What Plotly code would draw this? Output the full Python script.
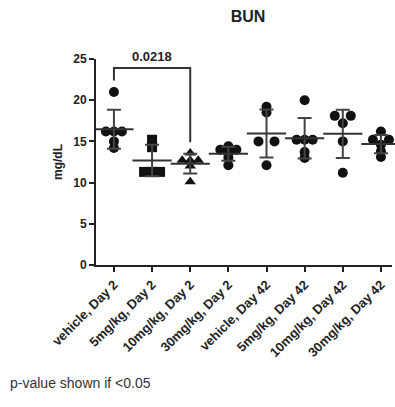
import numpy as np
import plotly.graph_objects as go

categories = ["vehicle, Day 2", "5mg/kg, Day 2", "10mg/kg, Day 2", "30mg/kg, Day 2",
              "vehicle, Day 42", "5mg/kg, Day 42", "10mg/kg, Day 42", "30mg/kg, Day 42"]
g1 = [21.0, 16.2, 16.2, 16.2, 15.0, 14.2]
g2 = [15.2, 14.3, 11.3, 11.3, 11.3]
g3 = [13.6, 12.7, 12.7, 12.7, 12.0, 10.1]
g4 = [14.4, 14.0, 14.0, 13.5, 13.0, 12.1]
g5 = [19.2, 18.5, 15.0, 15.0, 12.1]
g6 = [20.0, 15.2, 15.2, 15.2, 13.7, 13.0]
g7 = [18.1, 18.1, 17.2, 15.0, 11.2]
g8 = [16.2, 15.2, 15.2, 14.6, 13.8, 13.1]
groups = [g1, g2, g3, g4, g5, g6, g7, g8]
symbols = ["circle", "square", "triangle-up", "circle", "circle", "circle", "circle", "circle"]
pval_text = "0.0218"
pval_pair = (0, 2)

px_per_cat = 38.1
step_px = 8.0
FONT = "Liberation Sans, Arial"

fig = go.Figure()

def swarm(vals):
    # spread near-identical values symmetrically around the centre
    order = sorted(range(len(vals)), key=lambda k: -vals[k])
    offs = [0.0] * len(vals)
    clusters = []
    for k in order:
        if clusters and abs(vals[clusters[-1][-1]] - vals[k]) <= 0.3:
            clusters[-1].append(k)
        else:
            clusters.append([k])
    for cl in clusters:
        n = len(cl)
        if n == 1:
            continue
        if n == 2:
            pos = [-1, 1]
        else:
            pos = [(j - (n - 1) / 2) for j in range(n)]
        for k, p in zip(cl, pos):
            offs[k] = p * step_px / px_per_cat
    return offs

for i, vals in enumerate(groups):
    offs = swarm(vals)
    xs = [i + o for o in offs]
    fig.add_trace(go.Scatter(x=xs, y=vals, mode="markers",
                             marker=dict(symbol=symbols[i], size=10, color="#111111",
                                         line=dict(width=0)),
                             showlegend=False, cliponaxis=False))

means = [float(np.mean(v)) for v in groups]
sds = [float(np.std(v, ddof=1)) for v in groups]
fig.add_trace(go.Scatter(x=list(range(8)), y=means, mode="markers",
                         marker=dict(symbol="line-ew", size=28, color="#333333",
                                     line=dict(width=2, color="#333333")),
                         error_y=dict(type="data", array=sds, visible=True, color="#444444",
                                      thickness=2, width=7),
                         showlegend=False, cliponaxis=False))

# significance bracket
a, b = pval_pair
top = 23.9
fig.add_trace(go.Scatter(x=[a, a, b, b], y=[max(groups[a]) + 1.4, top, top, max(groups[b]) + 1.3],
                         mode="lines", line=dict(color="#333333", width=2),
                         showlegend=False, cliponaxis=False, hoverinfo="skip"))
fig.add_annotation(x=(a + b) / 2, y=top, yshift=2, text="<b>" + pval_text + "</b>",
                   showarrow=False, yanchor="bottom",
                   font=dict(size=13, color="#222222", family=FONT))

fig.update_layout(
    width=395, height=407,
    margin=dict(l=96, r=3, t=59, b=142),
    plot_bgcolor="white", paper_bgcolor="white",
    font=dict(family=FONT, color="#222222"),
    title=dict(text="<b>BUN</b>", x=248 / 395, xanchor="center", y=1 - 16 / 407, yanchor="middle",
               font=dict(size=16, color="#222222")),
    xaxis=dict(range=[-0.47, 7.29], tickmode="array", tickvals=list(range(8)),
               ticktext=["<b>" + c + "</b>" for c in categories], tickangle=-45,
               showgrid=False, zeroline=False, showline=True, linecolor="#222222", linewidth=2,
               ticks="outside", ticklen=5, tickwidth=2, tickcolor="#222222",
               tickfont=dict(size=13, color="#222222")),
    yaxis=dict(range=[0, 25], tickvals=[0, 5, 10, 15, 20, 25],
               ticktext=["<b>%d</b>" % t for t in [0, 5, 10, 15, 20, 25]],
               showgrid=False, zeroline=False, showline=True, linecolor="#222222", linewidth=2,
               ticks="outside", ticklen=5, tickwidth=2, tickcolor="#222222",
               tickfont=dict(size=12, color="#222222"),
               title=dict(text="<b>mg/dL</b>", font=dict(size=12, color="#222222"), standoff=8)),
)
fig.add_annotation(xref="paper", yref="paper", x=-88 / 296, y=-(383 - 265) / 206,
                   text="p-value shown if <0.05", showarrow=False, xanchor="left", yanchor="middle",
                   font=dict(size=14, color="#333333", family=FONT))

fig.write_html("out.html")
